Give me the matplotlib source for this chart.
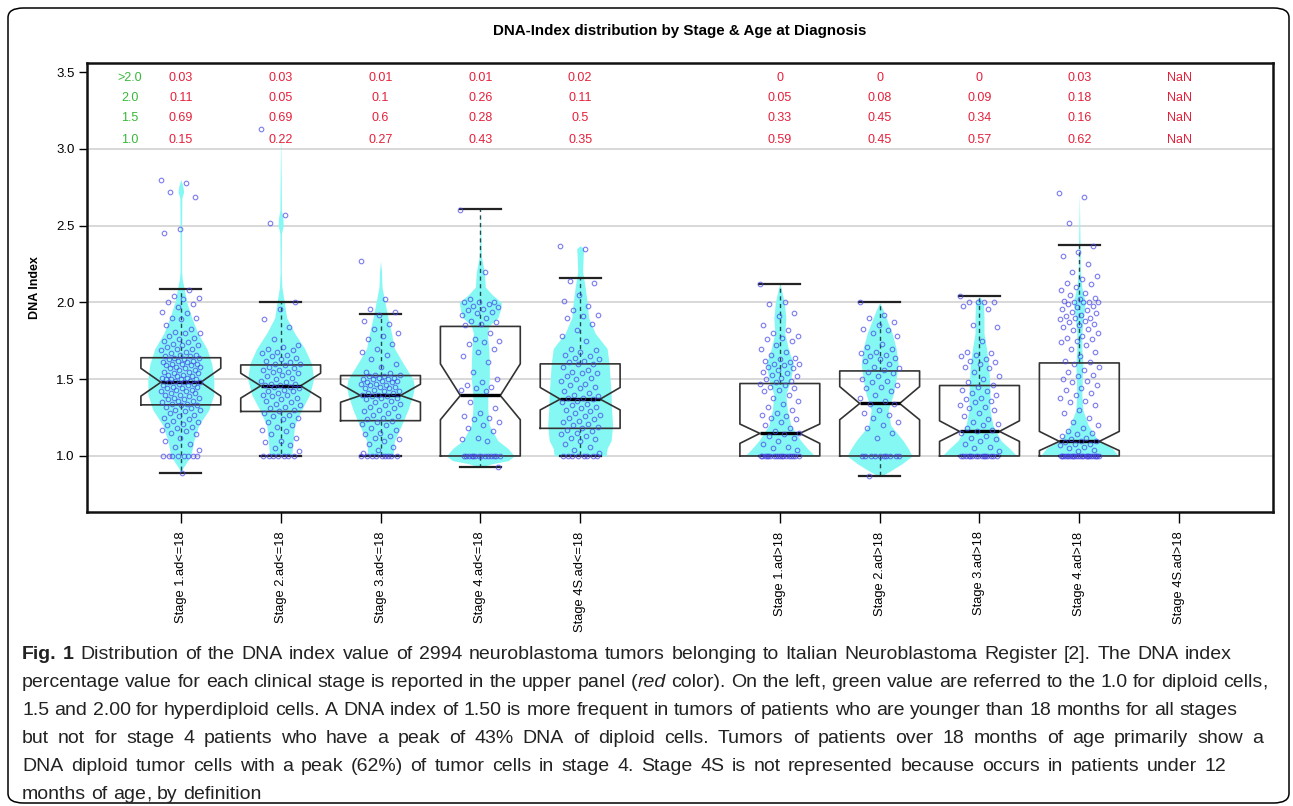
import numpy as np
import matplotlib.pyplot as plt
from matplotlib.patches import FancyBboxPatch

# categories / positions (gap between the two age groups)
groups = ["Stage 1.ad<=18", "Stage 2.ad<=18", "Stage 3.ad<=18", "Stage 4.ad<=18", "Stage 4S.ad<=18",
          "Stage 1.ad>18", "Stage 2.ad>18", "Stage 3.ad>18", "Stage 4.ad>18", "Stage 4S.ad>18"]
positions = [1, 2, 3, 4, 5, 7, 8, 9, 10, 11]

# fraction table shown on top (rows: >2.0, 2.0, 1.5, 1.0)
row_labels = [">2.0", "2.0", "1.5", "1.0"]
row_y = [3.46, 3.33, 3.20, 3.06]
frac_gt2 = ["0.03", "0.03", "0.01", "0.01", "0.02", "0", "0", "0", "0.03", "NaN"]
frac_20 = ["0.11", "0.05", "0.1", "0.26", "0.11", "0.05", "0.08", "0.09", "0.18", "NaN"]
frac_15 = ["0.69", "0.69", "0.6", "0.28", "0.5", "0.33", "0.45", "0.34", "0.16", "NaN"]
frac_10 = ["0.15", "0.22", "0.27", "0.43", "0.35", "0.59", "0.45", "0.57", "0.62", "NaN"]

# box statistics (Stage 4S.ad>18 is empty)
q1 = [1.333, 1.29, 1.23, 1.0, 1.18, 1.0, 1.0, 1.0, 1.0]
med = [1.48, 1.457, 1.394, 1.394, 1.37, 1.147, 1.342, 1.16, 1.095]
q3 = [1.64, 1.593, 1.524, 1.844, 1.60, 1.472, 1.554, 1.459, 1.606]
ci_lo = [1.39, 1.377, 1.35, 1.236, 1.30, 1.082, 1.236, 1.095, 1.035]
ci_hi = [1.571, 1.539, 1.4675, 1.60, 1.446, 1.208, 1.452, 1.229, 1.16]
whis_lo = [0.89, 1.0, 1.0, 0.93, 1.0, 1.0, 0.868, 1.0, 1.0]
whis_hi = [2.09, 2.0, 1.922, 2.606, 2.16, 2.123, 2.0, 2.043, 2.372]

# violin outlines: DNA index level and half width
vio1_y = [0.89, 0.92, 0.95, 1.0, 1.1, 1.2, 1.3, 1.4, 1.5, 1.6, 1.7, 1.8, 1.9, 2.0, 2.1, 2.15, 2.2, 2.5, 2.68, 2.72, 2.76, 2.80]
vio1_w = [0.0, 0.02, 0.05, 0.10, 0.13, 0.18, 0.28, 0.33, 0.33, 0.31, 0.26, 0.17, 0.11, 0.06, 0.03, 0.015, 0.008, 0.008, 0.01, 0.028, 0.02, 0.0]
vio2_y = [1.0, 1.1, 1.2, 1.3, 1.4, 1.5, 1.6, 1.7, 1.8, 1.9, 2.0, 2.1, 2.2, 2.45, 2.5, 2.55, 2.6, 2.75, 3.13]
vio2_w = [0.11, 0.125, 0.14, 0.21, 0.29, 0.33, 0.31, 0.24, 0.14, 0.06, 0.037, 0.012, 0.006, 0.008, 0.025, 0.022, 0.008, 0.006, 0.0]
vio3_y = [1.0, 1.1, 1.2, 1.3, 1.4, 1.45, 1.5, 1.6, 1.7, 1.8, 1.9, 2.0, 2.1, 2.2, 2.27]
vio3_w = [0.125, 0.14, 0.21, 0.275, 0.325, 0.34, 0.325, 0.23, 0.14, 0.11, 0.075, 0.045, 0.015, 0.01, 0.0]
vio4_y = [0.93, 0.95, 0.97, 1.0, 1.05, 1.1, 1.2, 1.3, 1.4, 1.5, 1.6, 1.7, 1.8, 1.85, 1.9, 1.95, 2.0, 2.05, 2.1, 2.2, 2.3, 2.6]
vio4_w = [0.02, 0.12, 0.28, 0.34, 0.275, 0.175, 0.09, 0.075, 0.075, 0.09, 0.09, 0.085, 0.07, 0.09, 0.175, 0.2, 0.21, 0.12, 0.05, 0.04, 0.01, 0.0]
vio5_y = [1.0, 1.05, 1.1, 1.2, 1.3, 1.4, 1.5, 1.6, 1.7, 1.8, 1.9, 2.0, 2.1, 2.2, 2.3, 2.35, 2.37]
vio5_w = [0.26, 0.27, 0.31, 0.325, 0.315, 0.31, 0.30, 0.29, 0.27, 0.15, 0.085, 0.07, 0.05, 0.025, 0.03, 0.035, 0.0]
vio6_y = [1.0, 1.05, 1.1, 1.2, 1.3, 1.4, 1.5, 1.6, 1.7, 1.8, 1.9, 2.0, 2.1, 2.12]
vio6_w = [0.35, 0.275, 0.21, 0.11, 0.075, 0.06, 0.11, 0.135, 0.085, 0.05, 0.06, 0.045, 0.01, 0.0]
vio7_y = [0.87, 0.9, 0.95, 1.0, 1.05, 1.1, 1.2, 1.3, 1.4, 1.5, 1.6, 1.7, 1.8, 1.9, 1.95, 2.0]
vio7_w = [0.02, 0.1, 0.225, 0.325, 0.285, 0.235, 0.11, 0.085, 0.135, 0.165, 0.185, 0.165, 0.125, 0.065, 0.035, 0.0]
vio8_y = [1.0, 1.05, 1.1, 1.2, 1.3, 1.4, 1.5, 1.6, 1.7, 1.8, 1.9, 2.0, 2.04]
vio8_w = [0.375, 0.30, 0.215, 0.135, 0.105, 0.105, 0.10, 0.09, 0.07, 0.045, 0.045, 0.04, 0.0]
vio9_y = [1.0, 1.05, 1.1, 1.2, 1.3, 1.4, 1.5, 1.6, 1.7, 1.8, 1.9, 2.0, 2.1, 2.2, 2.4, 2.71]
vio9_w = [0.39, 0.33, 0.19, 0.09, 0.035, 0.025, 0.03, 0.035, 0.025, 0.025, 0.04, 0.06, 0.025, 0.01, 0.007, 0.0]

# individual tumors (DNA index)
pts1 = [2.80, 2.78, 2.72, 2.69, 2.48, 2.45, 2.08, 2.04, 2.03, 2.02, 2.00, 1.99, 1.97, 1.94, 1.93, 1.90, 1.90,
        1.89, 1.85, 1.83, 1.81, 1.80, 1.80, 1.78, 1.77, 1.76, 1.75, 1.74, 1.73, 1.72, 1.72, 1.71, 1.70, 1.70,
        1.69, 1.68, 1.67, 1.66, 1.66, 1.65, 1.65, 1.64, 1.64, 1.63, 1.63, 1.62, 1.62, 1.61, 1.61, 1.60, 1.60, 1.60,
        1.59, 1.59, 1.58, 1.58, 1.57, 1.57, 1.56, 1.56, 1.55, 1.55, 1.54, 1.54, 1.53, 1.53, 1.52, 1.52, 1.51, 1.51,
        1.50, 1.50, 1.50, 1.50, 1.49, 1.49, 1.48, 1.48, 1.48, 1.47, 1.47, 1.46, 1.46, 1.45, 1.45, 1.44, 1.44, 1.43,
        1.43, 1.42, 1.42, 1.41, 1.41, 1.40, 1.40, 1.39, 1.38, 1.38, 1.37, 1.37, 1.36, 1.36, 1.35, 1.34, 1.34, 1.33,
        1.33, 1.32, 1.31, 1.30, 1.30, 1.29, 1.28, 1.27, 1.26, 1.25, 1.24, 1.23, 1.22, 1.21, 1.20, 1.19, 1.18, 1.17,
        1.16, 1.15, 1.14, 1.12, 1.10, 1.08, 1.06, 1.04, 1.0, 1.0, 1.0, 1.0, 1.0, 1.0, 1.0, 1.0, 0.89]
pts2 = [3.13, 2.57, 2.52, 2.00, 1.96, 1.89, 1.84, 1.76, 1.72, 1.71, 1.70, 1.69, 1.68, 1.67, 1.66, 1.65, 1.64,
        1.63, 1.62, 1.61, 1.60, 1.60, 1.59, 1.58, 1.57, 1.56, 1.56, 1.55, 1.55, 1.54, 1.53, 1.52, 1.51, 1.50,
        1.49, 1.48, 1.47, 1.47, 1.46, 1.46, 1.45, 1.45, 1.44, 1.43, 1.42, 1.42, 1.41, 1.40, 1.40, 1.39, 1.38,
        1.37, 1.36, 1.35, 1.34, 1.33, 1.32, 1.31, 1.30, 1.29, 1.28, 1.27, 1.26, 1.25, 1.24, 1.22, 1.20, 1.19,
        1.17, 1.16, 1.14, 1.12, 1.10, 1.09, 1.07, 1.05, 1.03, 1.0, 1.0, 1.0, 1.0, 1.0, 1.0, 1.0]
pts3 = [2.27, 2.02, 1.96, 1.94, 1.92, 1.88, 1.86, 1.83, 1.80, 1.78, 1.76, 1.73, 1.70, 1.68, 1.66, 1.63, 1.60,
        1.58, 1.55, 1.54, 1.53, 1.53, 1.52, 1.52, 1.51, 1.51, 1.50, 1.50, 1.50, 1.49, 1.49, 1.48, 1.48, 1.47,
        1.47, 1.46, 1.46, 1.45, 1.45, 1.44, 1.44, 1.43, 1.42, 1.42, 1.41, 1.41, 1.40, 1.40, 1.39, 1.39, 1.38,
        1.38, 1.37, 1.36, 1.35, 1.34, 1.33, 1.32, 1.31, 1.30, 1.29, 1.28, 1.27, 1.26, 1.25, 1.24, 1.23, 1.22,
        1.21, 1.20, 1.18, 1.17, 1.15, 1.14, 1.13, 1.12, 1.11, 1.10, 1.08, 1.06, 1.04, 1.02,
        1.0, 1.0, 1.0, 1.0, 1.0, 1.0, 1.0, 1.0, 1.0]
pts4 = [2.60, 2.20, 2.02, 2.00, 2.00, 2.00, 1.99, 1.98, 1.97, 1.96, 1.95, 1.94, 1.93, 1.92, 1.90, 1.88, 1.87,
        1.86, 1.85, 1.80, 1.76, 1.75, 1.74, 1.73, 1.70, 1.68, 1.65, 1.61, 1.55, 1.50, 1.48, 1.46, 1.45, 1.44,
        1.43, 1.42, 1.35, 1.31, 1.28, 1.26, 1.25, 1.24, 1.22, 1.20, 1.18, 1.16, 1.12, 1.11, 1.10,
        1.0, 1.0, 1.0, 1.0, 1.0, 1.0, 1.0, 1.0, 1.0, 1.0, 1.0, 1.0, 1.0, 1.0, 0.93]
pts5 = [2.37, 2.35, 2.14, 2.13, 2.05, 2.01, 1.98, 1.95, 1.92, 1.91, 1.90, 1.86, 1.82, 1.78, 1.75, 1.70, 1.69,
        1.68, 1.66, 1.65, 1.64, 1.63, 1.62, 1.61, 1.60, 1.60, 1.58, 1.56, 1.55, 1.54, 1.54, 1.52, 1.51, 1.50,
        1.49, 1.47, 1.46, 1.45, 1.44, 1.42, 1.41, 1.40, 1.39, 1.38, 1.38, 1.37, 1.36, 1.35, 1.34, 1.33, 1.32,
        1.31, 1.30, 1.29, 1.28, 1.27, 1.26, 1.25, 1.24, 1.23, 1.22, 1.21, 1.20, 1.19, 1.18, 1.17, 1.16, 1.15,
        1.14, 1.13, 1.12, 1.11, 1.10, 1.08, 1.06, 1.04, 1.02, 1.0, 1.0, 1.0, 1.0, 1.0, 1.0, 1.0, 1.0]
pts6 = [2.12, 2.00, 1.99, 1.93, 1.91, 1.85, 1.82, 1.80, 1.78, 1.77, 1.76, 1.75, 1.72, 1.70, 1.68, 1.66, 1.64,
        1.63, 1.62, 1.61, 1.60, 1.60, 1.59, 1.58, 1.57, 1.56, 1.55, 1.54, 1.53, 1.52, 1.51, 1.50, 1.49, 1.48,
        1.47, 1.46, 1.45, 1.44, 1.43, 1.42, 1.40, 1.38, 1.36, 1.34, 1.32, 1.30, 1.28, 1.27, 1.26, 1.25, 1.24,
        1.22, 1.20, 1.18, 1.16, 1.15, 1.14, 1.13, 1.12, 1.10, 1.08, 1.06, 1.05, 1.04,
        1.0, 1.0, 1.0, 1.0, 1.0, 1.0, 1.0, 1.0, 1.0, 1.0, 1.0, 1.0, 1.0, 1.0, 1.0, 1.0, 1.0, 1.0]
pts7 = [2.00, 1.92, 1.90, 1.87, 1.85, 1.83, 1.82, 1.80, 1.78, 1.73, 1.71, 1.70, 1.68, 1.67, 1.66, 1.65, 1.64,
        1.63, 1.62, 1.60, 1.58, 1.57, 1.56, 1.55, 1.54, 1.52, 1.50, 1.49, 1.48, 1.46, 1.45, 1.44, 1.42, 1.40,
        1.38, 1.36, 1.34, 1.34, 1.30, 1.28, 1.27, 1.25, 1.22, 1.20, 1.18, 1.15, 1.12,
        1.0, 1.0, 1.0, 1.0, 1.0, 1.0, 1.0, 1.0, 1.0, 1.0, 0.87]
pts8 = [2.04, 2.00, 2.00, 2.00, 2.00, 1.98, 1.96, 1.85, 1.84, 1.75, 1.68, 1.67, 1.66, 1.65, 1.63, 1.62, 1.61,
        1.60, 1.58, 1.57, 1.55, 1.52, 1.50, 1.48, 1.46, 1.45, 1.43, 1.42, 1.41, 1.40, 1.38, 1.37, 1.36, 1.35,
        1.33, 1.32, 1.31, 1.30, 1.28, 1.26, 1.24, 1.22, 1.21, 1.20, 1.18, 1.17, 1.16, 1.15, 1.13, 1.12, 1.11,
        1.10, 1.08, 1.06, 1.05, 1.03, 1.0, 1.0, 1.0, 1.0, 1.0, 1.0, 1.0, 1.0, 1.0, 1.0, 1.0, 1.0, 1.0, 1.0, 1.0]
pts9 = [2.71, 2.69, 2.52, 2.37, 2.33, 2.30, 2.25, 2.20, 2.17, 2.15, 2.13, 2.12, 2.10, 2.08, 2.06, 2.05, 2.03,
        2.02, 2.01, 2.00, 2.00, 2.00, 2.00, 1.99, 1.98, 1.97, 1.96, 1.95, 1.94, 1.93, 1.92, 1.91, 1.90, 1.90,
        1.89, 1.88, 1.87, 1.86, 1.85, 1.84, 1.83, 1.82, 1.80, 1.78, 1.77, 1.76, 1.75, 1.74, 1.72, 1.70, 1.68,
        1.65, 1.62, 1.61, 1.60, 1.58, 1.56, 1.55, 1.53, 1.52, 1.50, 1.49, 1.48, 1.46, 1.44, 1.43, 1.41, 1.40,
        1.38, 1.36, 1.35, 1.33, 1.30, 1.28, 1.25, 1.22, 1.20, 1.18, 1.16, 1.15, 1.14, 1.13, 1.12, 1.11, 1.10,
        1.10, 1.09, 1.08, 1.08, 1.07, 1.06, 1.05, 1.04, 1.03,
        1.0, 1.0, 1.0, 1.0, 1.0, 1.0, 1.0, 1.0, 1.0, 1.0, 1.0, 1.0, 1.0, 1.0, 1.0, 1.0, 1.0, 1.0, 1.0, 1.0,
        1.0, 1.0, 1.0, 1.0, 1.0]

caption_lines = [
    "Fig. 1 Distribution of the DNA index value of 2994 neuroblastoma tumors belonging to Italian Neuroblastoma Register [2]. The DNA index",
    "percentage value for each clinical stage is reported in the upper panel (red color). On the left, green value are referred to the 1.0 for diploid cells,",
    "1.5 and 2.00 for hyperdiploid cells. A DNA index of 1.50 is more frequent in tumors of patients who are younger than 18 months for all stages",
    "but not for stage 4 patients who have a peak of 43% DNA of diploid cells. Tumors of patients over 18 months of age primarily show a",
    "DNA diploid tumor cells with a peak (62%) of tumor cells in stage 4. Stage 4S is not represented because occurs in patients under 12",
    "months of age, by definition",
]
# right end of each caption line in the reference (None = ragged last line)
caption_right = [1232, 1268, 1237, 1263, 1226, None]

W, H = 1293, 806
plt.rcParams['font.family'] = ['Liberation Sans', 'DejaVu Sans']
fig = plt.figure(figsize=(W / 100, H / 100), dpi=100)
fig.patch.set_facecolor('white')

# rounded frame around the whole figure
frame = FancyBboxPatch((8 / W, 1 - 803 / H), (1289 - 8) / W, (803 - 8) / H,
                       boxstyle="round,pad=0,rounding_size=0.012", transform=fig.transFigure,
                       fill=False, edgecolor='black', linewidth=1.1)
fig.patches.append(frame)

ax = fig.add_axes([87 / W, 1 - 512 / H, (1273 - 87) / W, (512 - 63) / H])
ax.set_xlim(0.06, 11.94)
ax.set_ylim(0.635, 3.56)

for g in [1.0, 1.5, 2.0, 2.5, 3.0]:
    ax.axhline(g, color='#d6d6d6', lw=1.3, zorder=0)

vio_y = [vio1_y, vio2_y, vio3_y, vio4_y, vio5_y, vio6_y, vio7_y, vio8_y, vio9_y]
vio_w = [vio1_w, vio2_w, vio3_w, vio4_w, vio5_w, vio6_w, vio7_w, vio8_w, vio9_w]
cyan = '#86f8f4'
for p, yy, ww in zip(positions, vio_y, vio_w):
    yy = np.array(yy)
    ww = np.array(ww)
    ax.fill_betweenx(yy, p - ww, p + ww, color=cyan, lw=0, zorder=1)

stats = []
for i in range(9):
    stats.append(dict(med=med[i], q1=q1[i], q3=q3[i], cilo=ci_lo[i], cihi=ci_hi[i],
                      whislo=whis_lo[i], whishi=whis_hi[i], fliers=[]))
ax.bxp(stats, positions=positions[:9], widths=0.8, capwidths=0.41, shownotches=True,
       showfliers=False, manage_ticks=False,
       boxprops=dict(color='#333333', lw=1.2),
       whiskerprops=dict(color='#1d4f50', lw=1.0, linestyle=(0, (3, 2.5))),
       capprops=dict(color='#222222', lw=1.6),
       medianprops=dict(color='black', lw=2.4),
       zorder=2)

pts = [pts1, pts2, pts3, pts4, pts5, pts6, pts7, pts8, pts9]
for p, vals in zip(positions, pts):
    vals = np.array(vals)
    off = ((np.arange(len(vals)) * 0.6180339887) % 1.0 - 0.5) * 0.4
    ax.plot(p + off, vals, 'o', ms=3.3, mfc='none', mec='#4646e8', mew=0.8, alpha=0.7, zorder=3)

# fraction table
red = '#e5203a'
green = '#38b838'
for lab, y in zip(row_labels, row_y):
    ax.text(0.49, y, lab, color=green, fontsize=9, ha='center', va='center')
for row, y in zip([frac_gt2, frac_20, frac_15, frac_10], row_y):
    for p, s in zip(positions, row):
        ax.text(p, y, s, color=red, fontsize=9, ha='center', va='center')

ax.set_yticks([1.0, 1.5, 2.0, 2.5, 3.0, 3.5])
ax.set_yticklabels(["1.0", "1.5", "2.0", "2.5", "3.0", "3.5"])
ax.set_xticks(positions)
ax.set_xticklabels(groups, rotation=90, va='top', ha='center')
ax.tick_params(axis='x', length=8, width=1, pad=6, labelsize=9.3)
ax.tick_params(axis='y', length=6, width=1, pad=3, labelsize=9.5)
ax.set_ylabel("DNA Index", fontsize=9, fontweight='bold', labelpad=11)
for s in ax.spines.values():
    s.set_linewidth(1.8)
    s.set_color('#111111')

fig.text(680 / W, 1 - 31 / H, "DNA-Index distribution by Stage & Age at Diagnosis",
         ha='center', va='center', fontsize=10.9, fontweight='bold')

# caption, word by word so each line can be spread to the reference width
cap_font = ['Liberation Sans', 'DejaVu Sans']
cap_fs = 14
fig.canvas.draw()
r = fig.canvas.get_renderer()


def text_w(s, wt='normal', st='normal'):
    t = fig.text(0, 0, s, fontsize=cap_fs, fontweight=wt, fontstyle=st, family=cap_font)
    wv = t.get_window_extent(renderer=r).width
    t.remove()
    return wv


space_w = text_w("a a") - text_w("aa")

for i, line in enumerate(caption_lines):
    y = 659 + i * 28.0  # baseline
    words = line.split(' ')
    items = []  # per word: (list of (text, x offset), word width)
    for k, wd in enumerate(words):
        if i == 0 and k < 2:
            parts = [(wd, 'bold', 'normal', 0.0)]
            full = text_w(wd, 'bold')
        elif wd == '(red':
            pw = text_w('(')
            parts = [('(', 'normal', 'normal', 0.0), ('red', 'normal', 'italic', pw + 0.5)]
            full = pw + 0.5 + text_w('red', 'normal', 'italic')
        elif wd.endswith(',') and len(wd) > 1:
            full = text_w(wd)
            cw = text_w(',')
            parts = [(wd[:-1], 'normal', 'normal', 0.0), (',', 'normal', 'normal', full - cw)]
        else:
            parts = [(wd, 'normal', 'normal', 0.0)]
            full = text_w(wd)
        objs = []
        for txt, wt, st, dx in parts:
            t = fig.text(0, 1 - y / H, txt, fontsize=cap_fs, fontweight=wt, fontstyle=st,
                         family=cap_font, ha='left', va='baseline', color='#222222')
            objs.append((t, dx))
        items.append((objs, full))
    total = sum(full for _, full in items)
    if caption_right[i] is None:
        gap = space_w
    else:
        gap = (caption_right[i] - 22 - total) / (len(items) - 1)
    x = 22
    for objs, full in items:
        for t, dx in objs:
            t.set_x((x + dx) / W)
        x += full + gap

fig.savefig("out.png", dpi=100)
